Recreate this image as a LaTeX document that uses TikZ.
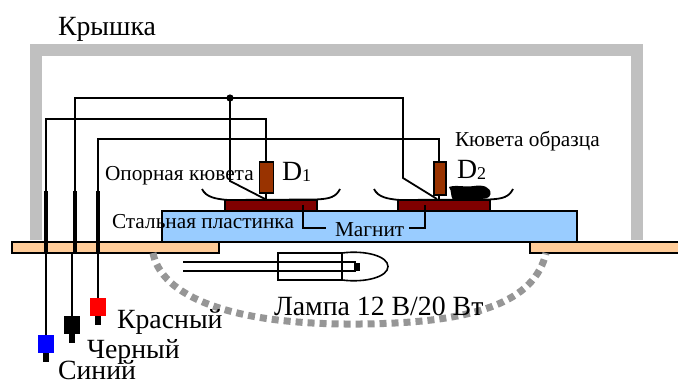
\documentclass[tikz,border=0pt]{standalone}
\usepackage{fontspec}
\setmainfont{Liberation Serif}
\definecolor{lidgray}{RGB}{192,192,192}
\definecolor{peach}{RGB}{255,204,153}
\definecolor{steelblue}{RGB}{153,204,255}
\definecolor{magnetred}{RGB}{128,0,0}
\definecolor{sensorbrown}{RGB}{153,51,0}
\definecolor{dashgray}{RGB}{150,150,150}
\tikzset{
  lbl/.style={anchor=base west,inner sep=0pt,outer sep=0pt,text=black},
  big/.style={lbl,font=\fontsize{27.8}{28}\selectfont},
  small/.style={lbl,font=\fontsize{21.3}{22}\selectfont},
  thin wire/.style={draw=black,line width=1.8pt},
  thick wire/.style={draw=black,line width=3.4pt},
  part/.style={draw=black,line width=1.6pt},
  plate/.style={part,fill=peach},
  steelplate/.style={part,fill=steelblue},
  magnetpart/.style={part,fill=magnetred},
  sensorpart/.style={part,fill=sensorbrown},
  dish/.style={draw=black,line width=1.8pt},
  lid/.style={draw=lidgray,line width=12pt,line join=miter},
  heater/.style={draw=dashgray,line width=7pt,dash pattern=on 7pt off 5pt},
  plugstub/.style={fill=black},
}
\begin{document}
\begin{tikzpicture}[x=1pt,y=-1pt]
\useasboundingbox (0,0) rectangle (678,380);
\clip (0,0) rectangle (678,380);
% lid
\draw[lid] (36,240) -- (36,50) -- (637,50) -- (637,240);
% wires behind
\coordinate (J) at (230,98);
\draw[thin wire] (75,192) -- (75,98) -- (403,98) -- (403,178) -- (437,199);
\draw[thin wire] (J) -- (230,181) -- (265,199);
\draw[thin wire] (46,192) -- (46,119) -- (266,119) -- (266,199);
\draw[thin wire] (98,192) -- (98,139) -- (439,139) -- (439,199);
\fill (J) circle (3.6);
% base plates
\draw[plate] (12,242) rectangle (219,253);
\draw[plate] (530,242) rectangle (690,253);
% steel plate
\draw[steelplate] (162,211) rectangle (577,242);
% magnets
\draw[magnetpart] (225,200) rectangle (317,211);
\draw[magnetpart] (398,200) rectangle (490,211);
% sensors
\draw[sensorpart] (259.5,162) rectangle (273.5,193);
\draw[sensorpart] (434,162) rectangle (446,195);
% dishes
\draw[dish] (202,189) .. controls (206,197) and (215,199) .. (228,200) -- (315,199.5) .. controls (330,199) and (336,197) .. (340,189);
\draw[dish] (374,189) .. controls (378,197) and (387,199) .. (400,200) -- (488,199.5) .. controls (503,199) and (509,197) .. (513,189);
% sample
\fill[black] (449,187) .. controls (456,184.5) and (465,187.5) .. (474,186) .. controls (483,184.5) and (491,187) .. (490.5,194) .. controls (490,199) and (484,199) .. (476,199) .. controls (468,199) and (460,200) .. (453,200) .. controls (450,195) and (452,191) .. (449,187) -- cycle;
% magnet leads
\draw[thin wire] (303,205) -- (303,228) -- (326,228);
\draw[thin wire] (425,205) -- (425,228) -- (409,228);
% thick wires and leads below
\draw[thick wire] (46,191) -- (46,253);
\draw[thick wire] (75,191) -- (75,253);
\draw[thick wire] (98,191) -- (98,253);
\draw[thin wire] (46,253) -- (46,335);
\draw[thin wire] (72,253) -- (72,316);
\draw[thin wire] (98,253) -- (98,298);
% plugs
\fill[blue] (38,335) rectangle (54,353);
\fill[plugstub] (43,353) rectangle (49,362);
\fill[black] (64,316) rectangle (80,334);
\fill[plugstub] (69,334) rectangle (75,343);
\fill[red] (90,298) rectangle (106,316);
\fill[plugstub] (95,316) rectangle (101,325);
% lamp
\draw[part] (278,253) rectangle (342,280);
\draw[part] (342,253) .. controls (365,250) and (388,256) .. (388,266.5) .. controls (388,277) and (365,283) .. (342,280);
\draw[thin wire] (183,262) -- (355,262) -- (355,271) -- (183,271);
\fill[black] (354,263) rectangle (360,271);
% heater ring
\draw[heater] (153,253) .. controls (160,290) and (215,323) .. (345,324) .. controls (480,325) and (535,300) .. (546,253);
% labels
\node[big] (lidlabel) at (58,35) {Крышка};
\node[small] (reflabel) at (105,180) {Опорная кювета};
\node[small] (steellabel) at (112,228) {Стальная пластинка};
\node[small] (magnetlabel) at (335,236) {Магнит};
\node[small] (samplelabel) at (455,146) {Кювета образца};
\node[big] (dA) at (282,180) {D\raisebox{-0.1ex}{\fontsize{18}{18}\selectfont 1}};
\node[big] (dB) at (457,178.5) {D\raisebox{-0.1ex}{\fontsize{18}{18}\selectfont 2}};
\node[big] (lamplabel) at (274,315) {Лампа 12 В/20 Вт};
\node[big] (redlabel) at (117,328) {Красный};
\node[big] (blacklabel) at (87,358) {Черный};
\node[big] (bluelabel) at (58,379.5) {Синий};
\end{tikzpicture}
\end{document}
